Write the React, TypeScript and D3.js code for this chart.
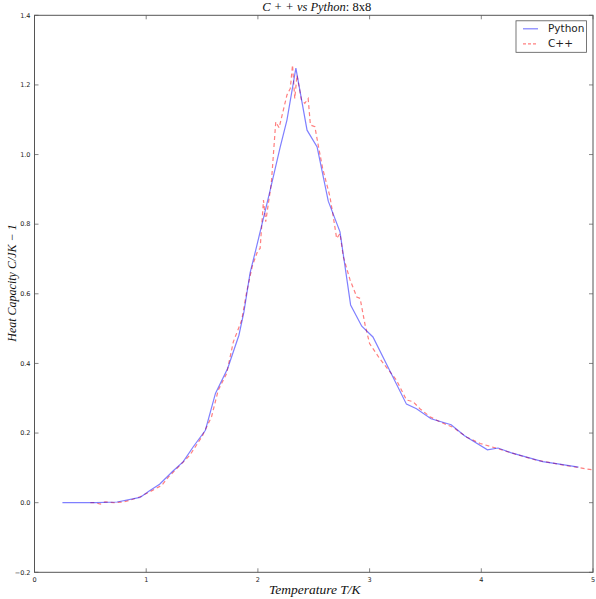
import React, { useEffect, useRef } from "react";
import * as d3 from "d3";

// Python run (temperature, heat capacity)
const pythonT = [
  0.25, 0.55, 0.74, 0.945, 1.03, 1.12, 1.24, 1.33, 1.42, 1.53, 1.62, 1.73, 1.83, 1.875, 1.93,
  1.98, 2.11, 2.2, 2.26, 2.34, 2.44, 2.53, 2.63, 2.735, 2.83, 2.93, 3.03, 3.33, 3.42, 3.55,
  3.73, 3.85, 4.055, 4.15, 4.27, 4.55, 4.7, 4.87,
];
const pythonC = [
  0, 0, 0.002, 0.015, 0.034, 0.053, 0.091, 0.117, 0.16, 0.208, 0.314, 0.386, 0.481, 0.548, 0.66,
  0.725, 0.898, 1.022, 1.099, 1.248, 1.07, 1.022, 0.866, 0.778, 0.568, 0.507, 0.476, 0.283, 0.27,
  0.241, 0.224, 0.192, 0.152, 0.157, 0.143, 0.118, 0.111, 0.102,
];

// C++ run
const cppT = [
  0.5, 0.54, 0.59, 0.63, 0.71, 0.795, 0.855, 0.945, 1.06, 1.14, 1.2, 1.39, 1.5, 1.585, 1.645,
  1.72, 1.78, 1.855, 1.9, 1.95, 2.0, 2.02, 2.05, 2.07, 2.12, 2.16, 2.19, 2.26, 2.29, 2.31, 2.33,
  2.35, 2.39, 2.42, 2.45, 2.47, 2.51, 2.54, 2.58, 2.645, 2.675, 2.705, 2.735, 2.765, 2.825,
  2.885, 2.915, 2.96, 3.0, 3.09, 3.24, 3.33, 3.39, 3.45, 3.54, 3.63, 3.75, 3.87, 3.99, 4.15,
  4.3, 4.485, 4.7, 5.0,
];
const cppC = [
  0, 0, -0.004, 0.002, 0, 0.002, 0.007, 0.017, 0.036, 0.05, 0.074, 0.136, 0.19, 0.247, 0.323,
  0.371, 0.462, 0.524, 0.606, 0.68, 0.725, 0.73, 0.869, 0.807, 0.917, 1.094, 1.077, 1.171, 1.19,
  1.257, 1.161, 1.228, 1.157, 1.147, 1.161, 1.085, 1.08, 1.027, 0.96, 0.879, 0.821, 0.759, 0.773,
  0.706, 0.64, 0.591, 0.587, 0.51, 0.457, 0.414, 0.352, 0.295, 0.29, 0.27, 0.247, 0.232, 0.216,
  0.188, 0.17, 0.155, 0.14, 0.123, 0.11, 0.094,
];

const xTicks = [0, 1, 2, 3, 4, 5];
const yTicks = [-0.2, 0.0, 0.2, 0.4, 0.6, 0.8, 1.0, 1.2, 1.4];

const width = 596;
const height = 599;
const margin = { top: 15.3, right: 3, bottom: 26.7, left: 34.5 };

const App: React.FC = () => {
  const svgRef = useRef<SVGSVGElement>(null);

  useEffect(() => {
    if (!svgRef.current) return;
    d3.select(svgRef.current).selectAll("*").remove();

    const innerWidth = width - margin.left - margin.right;
    const innerHeight = height - margin.top - margin.bottom;

    const svg = d3
      .select(svgRef.current)
      .attr("width", width)
      .attr("height", height)
      .append("g")
      .attr("transform", `translate(${margin.left},${margin.top})`);

    const x = d3.scaleLinear().domain([0, 5]).range([0, innerWidth]);
    const y = d3.scaleLinear().domain([-0.2, 1.4]).range([innerHeight, 0]);

    const tickFont = "DejaVu Sans, sans-serif";
    const mathFont = "Liberation Serif, serif";

    // ticks point inward, on all four sides
    const tickLen = 4;
    const tickColor = "#333";
    xTicks.forEach((t) => {
      svg.append("line").attr("x1", x(t)).attr("x2", x(t)).attr("y1", innerHeight)
        .attr("y2", innerHeight - tickLen).attr("stroke", tickColor).attr("stroke-width", 0.6);
      svg.append("line").attr("x1", x(t)).attr("x2", x(t)).attr("y1", 0)
        .attr("y2", tickLen).attr("stroke", tickColor).attr("stroke-width", 0.6);
      svg.append("text").attr("x", x(t)).attr("y", innerHeight + 10)
        .attr("text-anchor", "middle").attr("font-family", tickFont)
        .attr("font-size", 6.5).attr("fill", "#222").text(d3.format("d")(t));
    });
    yTicks.forEach((t) => {
      svg.append("line").attr("x1", 0).attr("x2", tickLen).attr("y1", y(t))
        .attr("y2", y(t)).attr("stroke", tickColor).attr("stroke-width", 0.6);
      svg.append("line").attr("x1", innerWidth).attr("x2", innerWidth - tickLen).attr("y1", y(t))
        .attr("y2", y(t)).attr("stroke", tickColor).attr("stroke-width", 0.6);
      svg.append("text").attr("x", -4).attr("y", y(t)).attr("dy", "0.35em")
        .attr("text-anchor", "end").attr("font-family", tickFont)
        .attr("font-size", 6.5).attr("fill", "#222").text(d3.format(".1f")(t));
    });

    const pyLine = d3
      .line<number>()
      .x((_, i) => x(pythonT[i]))
      .y((d) => y(d));
    const cppLine = d3
      .line<number>()
      .x((_, i) => x(cppT[i]))
      .y((d) => y(d));

    svg.append("path").datum(cppC).attr("fill", "none").attr("stroke", "#ff0000")
      .attr("stroke-opacity", 0.5).attr("stroke-width", 1.2)
      .attr("stroke-dasharray", "4,3").attr("d", cppLine);
    svg.append("path").datum(pythonC).attr("fill", "none").attr("stroke", "#0000ff")
      .attr("stroke-opacity", 0.5).attr("stroke-width", 1.2).attr("d", pyLine);

    // frame
    svg.append("rect").attr("width", innerWidth).attr("height", innerHeight)
      .attr("fill", "none").attr("stroke", "#555").attr("stroke-width", 1);

    // legend
    const lg = svg.append("g").attr("transform", `translate(${innerWidth - 77},${5.5})`);
    lg.append("rect").attr("width", 70.5).attr("height", 31.5).attr("fill", "white")
      .attr("stroke", "#555").attr("stroke-width", 0.8);
    lg.append("line").attr("x1", 7).attr("x2", 22).attr("y1", 8).attr("y2", 8)
      .attr("stroke", "#0000ff").attr("stroke-opacity", 0.5).attr("stroke-width", 1.2);
    lg.append("text").attr("x", 32).attr("y", 8).attr("dy", "0.35em")
      .attr("font-family", tickFont).attr("font-size", 10.5).attr("fill", "#222").text("Python");
    lg.append("line").attr("x1", 7).attr("x2", 22).attr("y1", 23).attr("y2", 23)
      .attr("stroke", "#ff0000").attr("stroke-opacity", 0.5).attr("stroke-width", 1.2)
      .attr("stroke-dasharray", "3,2");
    lg.append("text").attr("x", 32).attr("y", 23).attr("dy", "0.35em")
      .attr("font-family", tickFont).attr("font-size", 10.5).attr("fill", "#222").text("C++");

    // title
    const title = svg.append("text").attr("x", innerWidth / 2 + 3).attr("y", -4)
      .attr("text-anchor", "middle").attr("font-family", mathFont)
      .attr("font-size", 12.5).attr("fill", "#111");
    title.append("tspan").attr("font-style", "italic").text("C + +  vs  Python");
    title.append("tspan").text(":  8x8");

    // x label
    svg.append("text").attr("x", innerWidth / 2 + 1).attr("y", innerHeight + 22)
      .attr("text-anchor", "middle").attr("font-family", mathFont)
      .attr("font-style", "italic").attr("font-size", 13.5).attr("fill", "#111")
      .text("Temperature T/K");

    // y label
    svg.append("text").attr("transform", "rotate(-90)")
      .attr("x", -(283 - margin.top)).attr("y", -margin.left + 16)
      .attr("text-anchor", "middle").attr("font-family", mathFont)
      .attr("font-style", "italic").attr("font-size", 12).attr("fill", "#111")
      .text("Heat Capacity C/JK − 1");
  }, []);

  return (
    <svg
      ref={svgRef}
      style={{ position: "absolute", left: 0, top: 0, background: "white" }}
    ></svg>
  );
};

export default App;
